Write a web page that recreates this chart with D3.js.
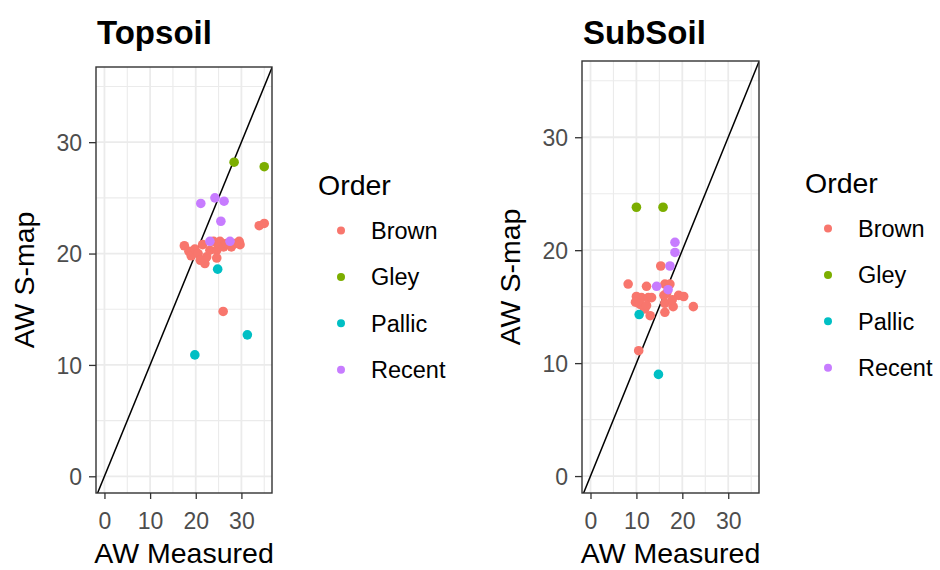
<!DOCTYPE html>
<html>
<head>
<meta charset="utf-8">
<script src="https://cdn.jsdelivr.net/npm/d3@7"></script>
<style>
  html, body { margin: 0; padding: 0; background: #fff; }
  svg { display: block; font-family: "Liberation Sans", Arial, sans-serif; }
</style>
</head>
<body>
<svg id="chart" width="940" height="570"></svg>
<script>
// ---------------- DATA ----------------
const orders = ["Brown", "Gley", "Pallic", "Recent"];
const orderColors = ["#F8766D", "#7CAE00", "#00BFC4", "#C77CFF"];
const tickValues = [0, 10, 20, 30];
const minorTickValues = [5, 15, 25, 35];
const panelTitles = ["Topsoil", "SubSoil"];
const xAxisTitle = "AW Measured";
const yAxisTitle = "AW S-map";
const legendTitle = "Order";

// Topsoil: [AW Measured, AW S-map]
const topsoilBrown = [
  [17.5, 20.7], [18.5, 20.2], [19.0, 19.8], [19.8, 20.4], [20.5, 20.0],
  [21.5, 20.8], [22.0, 19.1], [22.4, 19.7], [23.1, 20.3], [23.9, 21.1],
  [24.6, 20.3], [24.6, 19.6], [25.3, 21.1], [25.0, 20.6], [26.1, 20.6],
  [26.7, 20.9], [27.8, 20.6], [28.6, 20.9], [29.5, 21.1], [29.7, 20.8],
  [21.0, 19.4], [26.0, 14.8], [33.9, 22.5], [35.0, 22.7]
];
const topsoilGley = [[28.4, 28.2], [35.0, 27.8]];
const topsoilPallic = [[24.8, 18.6], [31.3, 12.7], [19.8, 10.9]];
const topsoilRecent = [[21.1, 24.5], [24.2, 25.0], [26.2, 24.7], [25.5, 22.9], [23.1, 21.1], [27.5, 21.1]];

// SubSoil: [AW Measured, AW S-map]
const subsoilBrown = [
  [8.2, 17.0], [10.5, 11.1], [15.3, 18.6], [12.2, 16.8], [16.2, 17.0],
  [17.3, 17.0], [16.6, 16.2], [19.2, 16.0], [20.3, 15.9], [22.4, 15.0],
  [10.0, 15.9], [11.1, 15.8], [12.6, 15.8], [13.3, 15.8], [9.8, 15.4],
  [10.8, 15.2], [11.8, 14.8], [12.2, 15.1], [13.0, 14.2], [16.2, 15.3],
  [18.0, 15.0], [16.2, 14.5], [16.0, 16.0], [17.8, 15.6]
];
const subsoilGley = [[10.0, 23.8], [15.8, 23.8]];
const subsoilPallic = [[10.6, 14.3], [14.8, 9.0]];
const subsoilRecent = [[18.4, 20.7], [18.4, 19.8], [17.3, 18.6], [14.4, 16.8], [16.9, 16.5]];

const xDomain = [-1.85, 36.7];
const yDomain = [-1.5, 36.75];

// ---------------- LAYOUT ----------------
const panels = [
  { title: panelTitles[0], series: [topsoilBrown, topsoilGley, topsoilPallic, topsoilRecent],
    left: 96, right: 272, top: 67, bottom: 493, legendX: 318, legendY: 195 },
  { title: panelTitles[1], series: [subsoilBrown, subsoilGley, subsoilPallic, subsoilRecent],
    left: 582, right: 759, top: 61, bottom: 493, legendX: 805, legendY: 193 }
];

const svg = d3.select("#chart");
const color = d3.scaleOrdinal().domain(orders).range(orderColors);

panels.forEach((p, pi) => {
  const x = d3.scaleLinear().domain(xDomain).range([p.left, p.right]);
  const y = d3.scaleLinear().domain(yDomain).range([p.bottom, p.top]);
  const g = svg.append("g");

  g.append("rect").attr("x", p.left).attr("y", p.top)
    .attr("width", p.right - p.left).attr("height", p.bottom - p.top)
    .attr("fill", "#fff");

  // minor grid
  g.selectAll(".minx").data(minorTickValues.filter(v => v <= xDomain[1])).enter().append("line")
    .attr("x1", d => x(d)).attr("x2", d => x(d)).attr("y1", p.top).attr("y2", p.bottom)
    .attr("stroke", "#EBEBEB").attr("stroke-width", 1.1);
  g.selectAll(".miny").data(minorTickValues.filter(v => v <= yDomain[1])).enter().append("line")
    .attr("y1", d => y(d)).attr("y2", d => y(d)).attr("x1", p.left).attr("x2", p.right)
    .attr("stroke", "#EBEBEB").attr("stroke-width", 1.1);
  // major grid
  g.selectAll(".majx").data(tickValues).enter().append("line")
    .attr("x1", d => x(d)).attr("x2", d => x(d)).attr("y1", p.top).attr("y2", p.bottom)
    .attr("stroke", "#EBEBEB").attr("stroke-width", 1.8);
  g.selectAll(".majy").data(tickValues).enter().append("line")
    .attr("y1", d => y(d)).attr("y2", d => y(d)).attr("x1", p.left).attr("x2", p.right)
    .attr("stroke", "#EBEBEB").attr("stroke-width", 1.8);

  const clipId = "clip" + pi;
  svg.append("clipPath").attr("id", clipId).append("rect")
    .attr("x", p.left).attr("y", p.top)
    .attr("width", p.right - p.left).attr("height", p.bottom - p.top);

  // 1:1 line
  const lo = Math.min(xDomain[0], yDomain[0]), hi = Math.max(xDomain[1], yDomain[1]);
  g.append("line").attr("clip-path", `url(#${clipId})`)
    .attr("x1", x(lo)).attr("y1", y(lo)).attr("x2", x(hi)).attr("y2", y(hi))
    .attr("stroke", "#000").attr("stroke-width", 1.5);

  // points
  p.series.forEach((s, si) => {
    g.selectAll(null).data(s).enter().append("circle")
      .attr("cx", d => x(d[0])).attr("cy", d => y(d[1])).attr("r", 4.8)
      .attr("fill", color(orders[si]));
  });

  // border
  g.append("rect").attr("x", p.left).attr("y", p.top)
    .attr("width", p.right - p.left).attr("height", p.bottom - p.top)
    .attr("fill", "none").attr("stroke", "#333").attr("stroke-width", 1.4);

  // axes
  const xAxis = d3.axisBottom(x).tickValues(tickValues).tickSize(6).tickPadding(6).tickSizeOuter(0);
  const yAxis = d3.axisLeft(y).tickValues(tickValues).tickSize(7).tickPadding(7).tickSizeOuter(0);
  const gx = g.append("g").attr("transform", `translate(0,${p.bottom})`).call(xAxis);
  const gy = g.append("g").attr("transform", `translate(${p.left},0)`).call(yAxis);
  [gx, gy].forEach(a => {
    a.select(".domain").remove();
    a.selectAll(".tick line").attr("stroke", "#333").attr("stroke-width", 1.3);
    a.selectAll(".tick text").attr("fill", "#4D4D4D")
      .style("font-size", "23px").style("font-family", "Liberation Sans, Arial, sans-serif");
  });
  gx.selectAll(".tick text").attr("dy", null).attr("y", 0)
    .attr("transform", "translate(0,36)");
  gy.selectAll(".tick text").attr("dy", "0.36em");

  // axis titles
  g.append("text").attr("x", (p.left + p.right) / 2).attr("y", 563)
    .attr("text-anchor", "middle").style("font-size", "28.5px").attr("fill", "#000")
    .text(xAxisTitle);
  g.append("text").attr("transform", `translate(${p.left - 62},${(p.top + p.bottom) / 2}) rotate(-90)`)
    .attr("text-anchor", "middle").style("font-size", "28.5px").attr("fill", "#000")
    .text(yAxisTitle);

  // title
  g.append("text").attr("x", p.left + 1).attr("y", 44)
    .style("font-size", "33px").style("font-weight", "bold").attr("fill", "#000")
    .text(p.title);

  // legend
  const lg = g.append("g");
  lg.append("text").attr("x", p.legendX).attr("y", p.legendY)
    .style("font-size", "28.5px").attr("fill", "#000").text(legendTitle);
  orders.forEach((o, i) => {
    const cy = p.legendY + 35.5 + i * 46.4;
    lg.append("circle").attr("cx", p.legendX + 23).attr("cy", cy).attr("r", 4)
      .attr("fill", color(o));
    lg.append("text").attr("x", p.legendX + 53).attr("y", cy).attr("dy", "0.36em")
      .style("font-size", "23.5px").attr("fill", "#000").text(o);
  });
});
</script>
</body>
</html>
